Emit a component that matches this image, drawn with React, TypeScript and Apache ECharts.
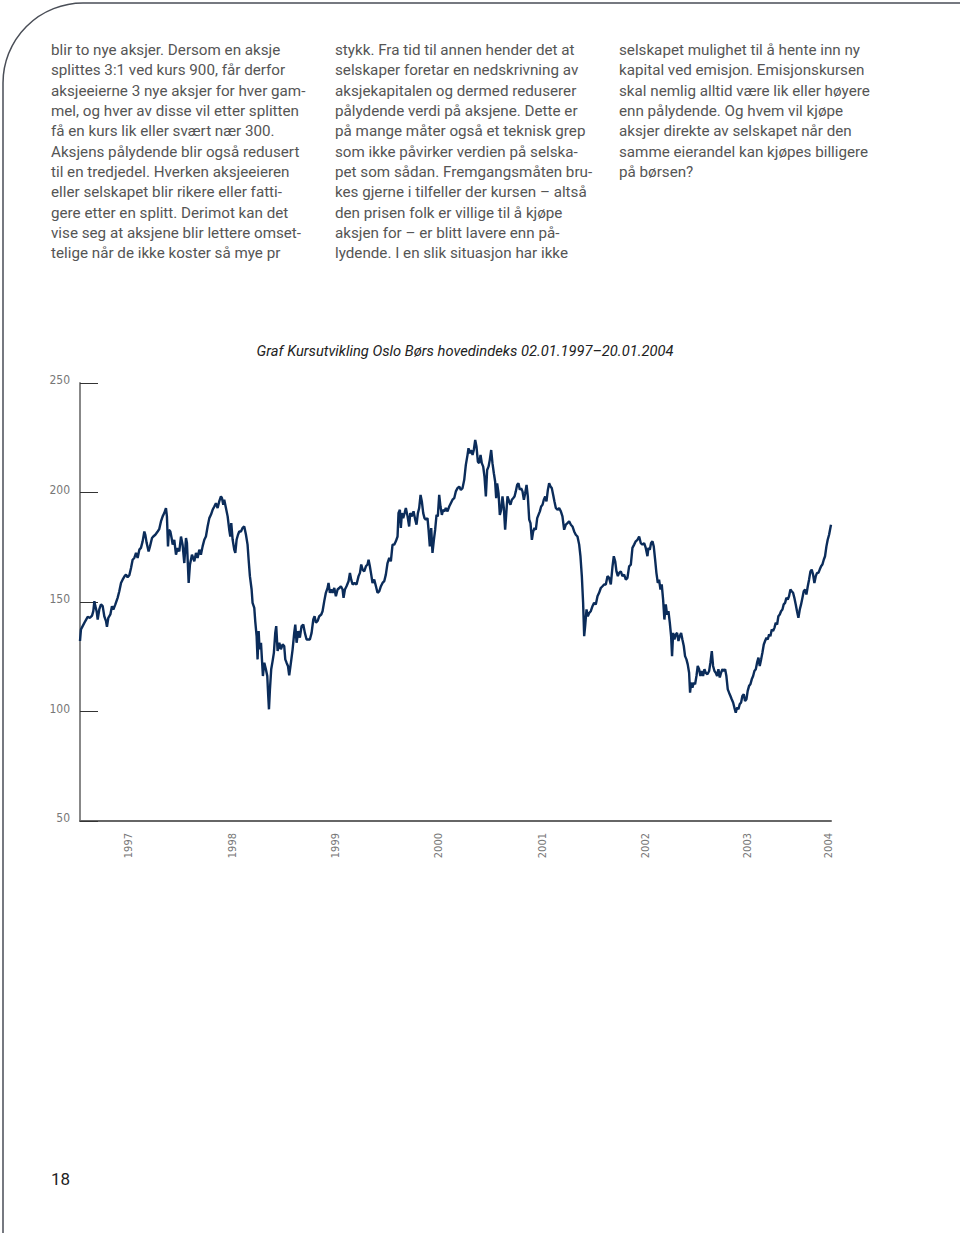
import React, { useEffect, useRef } from "react";
import * as echarts from "echarts";

// Oslo Børs hovedindeks (decimal year, index value)
const idx1997: number[][] = [[1997.000,132.2],[1997.009,137.5],[1997.025,139.0],[1997.050,141.3],[1997.072,143.2],[1997.094,142.8],[1997.113,143.8],[1997.125,145.8],[1997.135,150.4],[1997.144,148.1],[1997.156,145.8],[1997.166,142.0],[1997.181,146.6],[1997.197,148.9],[1997.213,148.1],[1997.228,143.5],[1997.244,141.3],[1997.253,138.7],[1997.266,142.8],[1997.285,144.3],[1997.300,148.1],[1997.313,146.6],[1997.332,148.9],[1997.353,151.9],[1997.369,154.9],[1997.385,158.7],[1997.400,160.2],[1997.419,161.8],[1997.432,162.5],[1997.447,161.3],[1997.463,162.2],[1997.479,165.5],[1997.494,169.3],[1997.510,170.1],[1997.526,172.4],[1997.541,170.1],[1997.557,173.9],[1997.572,174.7],[1997.588,177.7],[1997.604,182.2],[1997.613,180.7],[1997.626,176.9],[1997.644,173.1],[1997.657,175.4],[1997.676,179.2],[1997.688,179.9],[1997.707,180.7],[1997.729,182.2],[1997.744,183.3],[1997.760,186.8],[1997.776,189.1],[1997.791,190.6],[1997.807,192.9],[1997.816,189.1],[1997.826,175.4],[1997.835,183.0],[1997.848,182.2],[1997.860,179.2],[1997.870,176.2],[1997.885,178.4],[1997.901,171.6],[1997.916,174.7],[1997.932,173.1],[1997.948,179.9],[1997.963,176.2],[1997.979,167.8],[1997.995,179.2]];
const idx1998: number[][] = [[1998.004,176.9],[1998.020,158.7],[1998.032,167.0],[1998.051,171.6],[1998.073,168.6],[1998.089,172.4],[1998.104,170.1],[1998.120,173.9],[1998.135,171.6],[1998.151,175.4],[1998.167,178.4],[1998.182,179.9],[1998.198,184.5],[1998.214,188.3],[1998.229,189.8],[1998.245,192.1],[1998.261,193.6],[1998.276,195.1],[1998.292,192.9],[1998.307,195.9],[1998.323,198.2],[1998.333,197.4],[1998.345,194.4],[1998.354,196.7],[1998.370,192.9],[1998.386,189.1],[1998.401,183.0],[1998.411,179.9],[1998.420,186.0],[1998.433,178.4],[1998.448,173.9],[1998.458,172.4],[1998.470,178.4],[1998.483,180.7],[1998.495,182.2],[1998.511,182.2],[1998.526,183.8],[1998.542,184.5],[1998.558,180.7],[1998.573,176.2],[1998.583,169.3],[1998.595,161.8],[1998.611,155.7],[1998.620,149.6],[1998.636,147.3],[1998.645,141.3],[1998.658,134.4],[1998.667,123.8],[1998.677,136.7],[1998.686,128.4],[1998.699,131.4],[1998.708,123.8],[1998.717,116.2],[1998.730,122.3],[1998.745,119.3],[1998.758,116.2],[1998.767,107.1],[1998.774,101.0],[1998.783,110.1],[1998.795,119.3],[1998.808,123.0],[1998.820,126.8],[1998.833,135.9],[1998.842,139.0],[1998.855,127.6],[1998.871,131.4],[1998.886,128.4],[1998.902,130.6],[1998.917,129.9],[1998.927,123.8],[1998.939,122.3],[1998.952,120.8],[1998.964,116.5],[1998.980,122.3],[1998.996,128.4]];
const idx1999: number[][] = [[1999.011,135.9],[1999.021,139.7],[1999.033,131.4],[1999.049,136.7],[1999.064,133.7],[1999.080,139.0],[1999.096,139.7],[1999.111,135.9],[1999.127,132.9],[1999.143,132.9],[1999.158,132.9],[1999.174,135.9],[1999.190,142.0],[1999.202,143.5],[1999.215,140.5],[1999.230,141.3],[1999.246,143.5],[1999.265,144.3],[1999.277,145.8],[1999.293,150.4],[1999.308,154.2],[1999.324,156.4],[1999.333,158.7],[1999.346,154.2],[1999.358,155.7],[1999.371,154.2],[1999.387,156.4],[1999.402,152.6],[1999.418,155.7],[1999.434,156.4],[1999.449,157.2],[1999.465,155.7],[1999.474,151.9],[1999.487,155.7],[1999.502,157.2],[1999.521,159.5],[1999.534,163.3],[1999.546,160.2],[1999.559,158.0],[1999.577,158.7],[1999.596,158.0],[1999.615,161.8],[1999.628,163.3],[1999.640,167.1],[1999.653,164.8],[1999.668,164.0],[1999.684,166.3],[1999.699,167.1],[1999.709,169.3],[1999.721,166.3],[1999.734,162.5],[1999.746,158.7],[1999.762,160.2],[1999.778,157.2],[1999.793,154.2],[1999.809,154.9],[1999.825,157.2],[1999.840,158.7],[1999.856,159.5],[1999.871,162.5],[1999.887,167.8],[1999.903,170.1],[1999.918,168.6],[1999.934,176.2],[1999.950,176.2],[1999.965,177.7],[1999.981,179.9],[1999.990,190.6]];
const idx2000: number[][] = [[2000.003,192.1],[2000.012,183.8],[2000.022,190.6],[2000.034,188.3],[2000.047,190.6],[2000.059,192.9],[2000.075,189.1],[2000.090,184.5],[2000.100,190.6],[2000.115,189.1],[2000.131,191.4],[2000.147,187.6],[2000.159,185.3],[2000.172,190.6],[2000.184,192.9],[2000.197,198.9],[2000.209,195.9],[2000.222,190.6],[2000.234,188.3],[2000.247,187.6],[2000.262,188.3],[2000.272,183.0],[2000.284,175.4],[2000.297,183.8],[2000.309,172.4],[2000.322,178.4],[2000.334,183.0],[2000.347,189.8],[2000.359,189.1],[2000.372,198.9],[2000.384,193.6],[2000.397,189.8],[2000.409,192.1],[2000.422,191.4],[2000.434,192.9],[2000.450,191.4],[2000.466,193.6],[2000.481,195.1],[2000.497,196.7],[2000.513,197.4],[2000.528,200.5],[2000.544,202.0],[2000.560,202.7],[2000.575,201.2],[2000.591,202.0],[2000.607,205.8],[2000.622,212.6],[2000.638,217.2],[2000.647,220.2],[2000.660,217.9],[2000.672,219.4],[2000.685,217.2],[2000.697,219.4],[2000.710,224.0],[2000.722,221.0],[2000.735,214.1],[2000.747,213.4],[2000.760,217.2],[2000.772,213.4],[2000.785,211.8],[2000.797,207.3],[2000.810,198.2],[2000.822,210.3],[2000.835,211.8],[2000.847,214.9],[2000.860,219.4],[2000.872,213.4],[2000.885,208.8],[2000.897,205.0],[2000.907,197.4],[2000.916,204.2],[2000.929,199.7],[2000.941,189.8],[2000.954,192.1],[2000.966,198.2],[2000.979,192.9],[2000.991,183.0]];
const idx2001: number[][] = [[2001.004,192.1],[2001.013,198.2],[2001.029,195.9],[2001.041,194.4],[2001.054,196.7],[2001.066,197.4],[2001.079,198.2],[2001.091,200.5],[2001.104,203.5],[2001.116,204.2],[2001.129,201.2],[2001.141,202.0],[2001.154,200.5],[2001.167,196.7],[2001.179,199.7],[2001.192,203.5],[2001.204,198.2],[2001.217,187.6],[2001.229,186.0],[2001.242,178.4],[2001.254,182.2],[2001.267,183.8],[2001.279,183.0],[2001.292,188.3],[2001.304,189.8],[2001.317,191.4],[2001.329,193.6],[2001.342,194.4],[2001.354,196.7],[2001.367,198.2],[2001.379,195.9],[2001.392,201.2],[2001.404,204.2],[2001.417,202.7],[2001.429,202.0],[2001.442,198.9],[2001.454,195.9],[2001.467,192.9],[2001.482,192.1],[2001.498,192.9],[2001.514,191.4],[2001.529,189.1],[2001.545,183.0],[2001.561,185.3],[2001.576,186.0],[2001.592,186.8],[2001.608,185.3],[2001.623,184.5],[2001.639,182.2],[2001.654,180.7],[2001.670,179.9],[2001.686,176.2],[2001.698,170.9],[2001.711,161.8],[2001.723,149.6],[2001.733,134.4],[2001.742,139.0],[2001.755,146.6],[2001.767,143.5],[2001.780,145.0],[2001.795,145.8],[2001.811,148.1],[2001.826,149.6],[2001.842,148.9],[2001.858,152.6],[2001.873,154.2],[2001.889,156.4],[2001.905,157.2],[2001.920,158.0],[2001.936,158.0],[2001.952,161.8],[2001.967,161.0],[2001.983,158.0],[2001.999,166.3]];
const idx2002: number[][] = [[2002.011,170.9],[2002.024,168.6],[2002.036,164.0],[2002.049,161.8],[2002.061,163.3],[2002.077,164.0],[2002.092,161.8],[2002.108,162.5],[2002.124,160.2],[2002.139,161.0],[2002.155,166.3],[2002.171,167.1],[2002.186,174.7],[2002.202,176.2],[2002.217,177.7],[2002.233,178.4],[2002.249,179.9],[2002.264,176.9],[2002.280,176.2],[2002.296,176.9],[2002.311,174.7],[2002.327,170.9],[2002.336,174.7],[2002.349,173.9],[2002.361,176.9],[2002.374,177.7],[2002.386,175.4],[2002.399,169.3],[2002.411,163.3],[2002.424,158.7],[2002.436,160.2],[2002.449,155.7],[2002.461,158.0],[2002.474,151.1],[2002.486,142.0],[2002.499,148.9],[2002.511,144.3],[2002.524,145.8],[2002.537,140.5],[2002.549,134.4],[2002.558,125.3],[2002.568,135.9],[2002.580,132.9],[2002.593,135.2],[2002.605,135.9],[2002.618,132.2],[2002.630,134.4],[2002.643,135.9],[2002.655,132.9],[2002.668,129.9],[2002.680,125.3],[2002.693,123.8],[2002.705,121.5],[2002.718,117.7],[2002.727,108.6],[2002.737,113.2],[2002.749,110.9],[2002.762,113.2],[2002.774,112.4],[2002.787,116.2],[2002.799,120.8],[2002.812,119.3],[2002.824,116.2],[2002.837,118.5],[2002.849,116.2],[2002.862,119.3],[2002.874,117.7],[2002.890,117.0],[2002.906,118.5],[2002.918,122.3],[2002.931,127.6],[2002.943,120.8],[2002.956,118.5],[2002.968,117.7],[2002.981,116.2],[2002.993,119.3]];
const idx2003: number[][] = [[2003.006,115.5],[2003.018,117.7],[2003.031,119.3],[2003.043,118.5],[2003.056,119.3],[2003.068,116.2],[2003.081,110.1],[2003.093,108.6],[2003.106,107.1],[2003.118,105.6],[2003.131,104.1],[2003.143,101.8],[2003.156,99.5],[2003.168,101.8],[2003.181,101.0],[2003.193,103.3],[2003.206,104.1],[2003.218,107.1],[2003.231,107.9],[2003.243,104.8],[2003.256,105.6],[2003.268,109.4],[2003.281,111.7],[2003.293,112.4],[2003.306,114.7],[2003.319,116.2],[2003.331,118.5],[2003.344,119.3],[2003.356,122.3],[2003.369,124.6],[2003.381,120.8],[2003.394,123.8],[2003.406,126.8],[2003.419,130.6],[2003.431,132.2],[2003.444,133.7],[2003.456,132.9],[2003.469,135.2],[2003.481,134.4],[2003.494,137.5],[2003.506,136.7],[2003.519,138.2],[2003.531,140.5],[2003.544,139.7],[2003.556,143.5],[2003.569,144.3],[2003.581,145.8],[2003.594,146.6],[2003.606,148.9],[2003.619,149.6],[2003.631,151.9],[2003.644,151.1],[2003.656,152.6],[2003.669,155.7],[2003.681,154.9],[2003.694,154.2],[2003.706,151.9],[2003.719,148.9],[2003.731,145.8],[2003.744,142.8],[2003.757,146.6],[2003.769,148.9],[2003.782,151.9],[2003.794,154.9],[2003.807,155.7],[2003.819,153.4],[2003.832,157.2],[2003.844,160.2],[2003.857,164.0],[2003.869,164.8],[2003.882,162.5],[2003.894,158.7],[2003.907,161.8],[2003.919,163.3],[2003.932,163.3],[2003.944,164.8],[2003.957,166.3],[2003.969,167.1],[2003.982,169.3],[2003.994,170.9]];
const idx2004: number[][] = [[2004.007,175.4],[2004.019,178.4],[2004.032,180.7],[2004.044,183.8],[2004.050,185.3]];

const yearLabels = ["1997", "1998", "1999", "2000", "2001", "2002", "2003", "2004"];
const yearLabelAt = [1997.453, 1998.429, 1999.399, 2000.369, 2001.342, 2002.308, 2003.265, 2004.022];
const yMin = 50;
const yMax = 250;
const yStep = 50;

const title = "Graf Kursutvikling Oslo Børs hovedindeks 02.01.1997–20.01.2004";
const pageNumber = "18";

const column1 = [
  "blir to nye aksjer. Dersom en aksje",
  "splittes 3:1 ved kurs 900, får derfor",
  "aksjeeierne 3 nye aksjer for hver gam-",
  "mel, og hver av disse vil etter splitten",
  "få en kurs lik eller svært nær 300.",
  "Aksjens pålydende blir også redusert",
  "til en tredjedel. Hverken aksjeeieren",
  "eller selskapet blir rikere eller fatti-",
  "gere etter en splitt. Derimot kan det",
  "vise seg at aksjene blir lettere omset-",
  "telige når de ikke koster så mye pr",
];
const column2 = [
  "stykk. Fra tid til annen hender det at",
  "selskaper foretar en nedskrivning av",
  "aksjekapitalen og dermed reduserer",
  "pålydende verdi på aksjene. Dette er",
  "på mange måter også et teknisk grep",
  "som ikke påvirker verdien på selska-",
  "pet som sådan. Fremgangsmåten bru-",
  "kes gjerne i tilfeller der kursen – altså",
  "den prisen folk er villige til å kjøpe",
  "aksjen for – er blitt lavere enn på-",
  "lydende. I en slik situasjon har ikke",
];
const column3 = [
  "selskapet mulighet til å hente inn ny",
  "kapital ved emisjon. Emisjonskursen",
  "skal nemlig alltid være lik eller høyere",
  "enn pålydende. Og hvem vil kjøpe",
  "aksjer direkte av selskapet når den",
  "samme eierandel kan kjøpes billigere",
  "på børsen?",
];

const bodyFont = "Roboto, 'Noto Sans', sans-serif";
const narrowFont = "'Liberation Sans Narrow', 'DejaVu Sans Condensed', Roboto, sans-serif";

export default function App() {
  const ref = useRef<HTMLDivElement>(null);
  useEffect(() => {
    if (!ref.current) return;
    const chart = echarts.init(ref.current, null, { renderer: "svg" });
    const series = [...idx1997, ...idx1998, ...idx1999, ...idx2000, ...idx2001, ...idx2002, ...idx2003, ...idx2004];
    const colText = (lines: string[], x: number) => ({
      type: "text",
      x,
      y: 40,
      style: {
        text: lines.join("\n"),
        fontFamily: bodyFont,
        fontSize: 15.2,
        lineHeight: 20.3,
        fill: "#555",
        verticalAlign: "top",
      },
    });
    chart.setOption({
      animation: false,
      backgroundColor: "#fff",
      grid: { left: 80, top: 383, width: 751, height: 438, containLabel: false },
      xAxis: {
        type: "value",
        min: series[0][0],
        max: series[series.length - 1][0],
        splitLine: { show: false },
        axisTick: { show: false },
        axisLine: { show: true, lineStyle: { color: "#666", width: 2 } },
        axisLabel: {
          customValues: yearLabelAt,
          rotate: 90,
          margin: 12,
          fontSize: 11,
          fontFamily: narrowFont,
          color: "#777",
          formatter: (v: number) => {
            const i = yearLabelAt.findIndex((p) => Math.abs(p - v) < 1e-6);
            return i >= 0 ? yearLabels[i] : "";
          },
        },
      },
      yAxis: {
        type: "value",
        min: yMin,
        max: yMax,
        interval: yStep,
        splitLine: { show: false },
        axisLine: { show: true, lineStyle: { color: "#888", width: 2 } },
        axisTick: { show: true, inside: true, length: 18, lineStyle: { color: "#333", width: 1 } },
        axisLabel: {
          margin: 10,
          fontSize: 12,
          fontFamily: narrowFont,
          color: "#777",
          verticalAlign: "bottom",
          lineHeight: 6,
        },
      },
      series: [
        {
          type: "line",
          data: series,
          showSymbol: false,
          symbol: "none",
          lineStyle: { color: "#0b2c5a", width: 2.4 },
        },
      ],
      graphic: [
        {
          type: "rect",
          shape: { x: 3, y: 3, width: 1100, height: 1400, r: [80, 0, 0, 0] },
          style: { fill: "none", stroke: "#4a4e57", lineWidth: 1.5 },
          silent: true,
        },
        colText(column1, 51),
        colText(column2, 335),
        colText(column3, 619),
        {
          type: "text",
          x: 465,
          y: 351,
          style: {
            text: title,
            fontFamily: bodyFont,
            fontStyle: "italic",
            fontSize: 14.7,
            fill: "#222",
            align: "center",
            verticalAlign: "middle",
          },
        },
        {
          type: "text",
          x: 51,
          y: 1179,
          style: {
            text: pageNumber,
            fontFamily: bodyFont,
            fontSize: 17,
            fill: "#222",
            verticalAlign: "middle",
          },
        },
      ],
    });
    return () => chart.dispose();
  }, []);
  return <div ref={ref} style={{ position: "absolute", left: 0, top: 0, width: 960, height: 1233 }} />;
}
